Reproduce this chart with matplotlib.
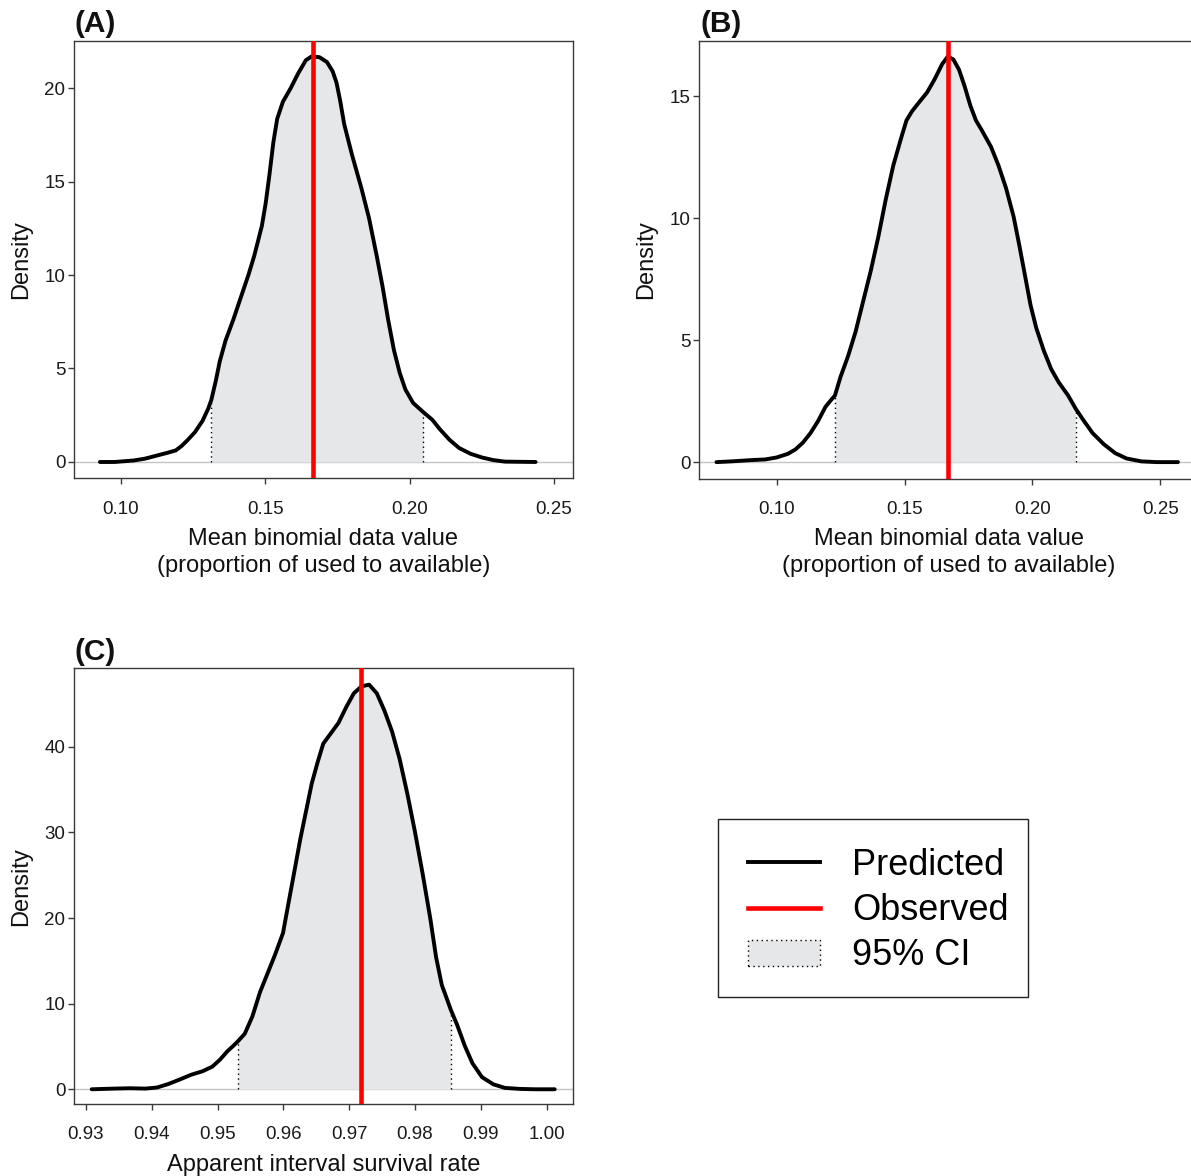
import numpy as np
import matplotlib
matplotlib.use("Agg")
import matplotlib.pyplot as plt
from matplotlib.lines import Line2D
from matplotlib.patches import Patch, Rectangle

plt.rcParams['font.family'] = ['Liberation Sans', 'DejaVu Sans']

# ---------------- data ----------------
# Panel A
a_x = [0.09271, 0.09775, 0.10438, 0.10836, 0.11233, 0.11631, 0.11897, 0.12095,
       0.12294, 0.12560, 0.12825, 0.13024, 0.13130, 0.13289, 0.13422, 0.13621,
       0.13886, 0.14151, 0.14416, 0.14615, 0.14748, 0.14881, 0.15013, 0.15146,
       0.15279, 0.15411, 0.15610, 0.15875, 0.16141, 0.16406, 0.16605, 0.16870,
       0.17135, 0.17334, 0.17467, 0.17599, 0.17732, 0.17997, 0.18329, 0.18594,
       0.18859, 0.19058, 0.19257, 0.19456, 0.19655, 0.19854, 0.20119, 0.20477,
       0.20782, 0.21048, 0.21379, 0.21711, 0.22109, 0.22507, 0.22905, 0.23302,
       0.24363]
a_y = [0.00, 0.00, 0.08, 0.18, 0.34, 0.50, 0.62, 0.85,
       1.15, 1.59, 2.20, 2.86, 3.32, 4.37, 5.38, 6.49,
       7.59, 8.80, 10.01, 11.02, 11.82, 12.63, 13.84, 15.40,
       17.10, 18.35, 19.27, 19.98, 20.79, 21.49, 21.69, 21.65,
       21.39, 20.89, 20.28, 19.27, 18.07, 16.46, 14.64, 13.03,
       11.02, 9.41, 7.59, 5.98, 4.77, 3.87, 3.16, 2.66,
       2.26, 1.75, 1.19, 0.75, 0.44, 0.24, 0.10, 0.02,
       0.00]
a_ci = [0.13130, 0.20477]
a_obs = 0.1665

# Panel B
b_x = [0.07647, 0.08235, 0.08971, 0.09559, 0.10000, 0.10441, 0.10735, 0.11029,
       0.11324, 0.11618, 0.11912, 0.12132, 0.12279, 0.12500, 0.12794, 0.13088,
       0.13382, 0.13676, 0.13971, 0.14265, 0.14559, 0.14853, 0.15074, 0.15294,
       0.15588, 0.15882, 0.16176, 0.16471, 0.16691, 0.16912, 0.17132, 0.17353,
       0.17574, 0.17794, 0.18015, 0.18382, 0.18676, 0.18971, 0.19265, 0.19485,
       0.19706, 0.19926, 0.20147, 0.20441, 0.20735, 0.21029, 0.21397, 0.21691,
       0.21985, 0.22353, 0.22794, 0.23235, 0.23676, 0.24265, 0.24853, 0.25691]
b_y = [0.00, 0.03, 0.08, 0.11, 0.19, 0.34, 0.52, 0.80,
       1.19, 1.68, 2.27, 2.55, 2.73, 3.50, 4.35, 5.35,
       6.59, 7.82, 9.21, 10.76, 12.15, 13.23, 14.00, 14.38,
       14.77, 15.15, 15.69, 16.31, 16.62, 16.50, 16.08, 15.39,
       14.61, 14.00, 13.61, 12.92, 12.15, 11.22, 10.06, 8.90,
       7.67, 6.44, 5.51, 4.58, 3.81, 3.27, 2.73, 2.19,
       1.73, 1.19, 0.73, 0.37, 0.15, 0.03, 0.00, 0.00]
b_ci = [0.12279, 0.21691]
b_obs = 0.1669

# Panel C
c_x = [0.93087, 0.93436, 0.93669, 0.93901, 0.94076, 0.94250, 0.94424, 0.94599,
       0.94773, 0.94919, 0.95035, 0.95151, 0.95238, 0.95308, 0.95413, 0.95529,
       0.95645, 0.95762, 0.95878, 0.95994, 0.96081, 0.96169, 0.96256, 0.96343,
       0.96430, 0.96517, 0.96605, 0.96721, 0.96837, 0.96953, 0.97070, 0.97186,
       0.97302, 0.97419, 0.97535, 0.97651, 0.97767, 0.97884, 0.98000, 0.98116,
       0.98233, 0.98320, 0.98407, 0.98494, 0.98541, 0.98640, 0.98756, 0.98872,
       0.99017, 0.99192, 0.99366, 0.99599, 0.99831, 1.00122]
c_y = [0.00, 0.08, 0.12, 0.08, 0.20, 0.61, 1.14, 1.70,
       2.11, 2.64, 3.45, 4.46, 5.07, 5.60, 6.49, 8.52,
       11.36, 13.59, 15.82, 18.26, 21.91, 25.56, 29.21, 32.45,
       35.70, 38.13, 40.37, 41.58, 42.80, 44.62, 46.25, 47.06,
       47.26, 46.25, 44.22, 41.78, 38.54, 34.48, 30.02, 25.15,
       19.88, 15.42, 12.17, 10.34, 9.33, 7.51, 5.07, 3.04,
       1.42, 0.57, 0.16, 0.04, 0.00, 0.00]
c_ci = [0.95308, 0.98541]
c_obs = 0.9718

xlabel_ab = "Mean binomial data value\n(proportion of used to available)"
xlabel_c = "Apparent interval survival rate"
ticks_ab = [0.10, 0.15, 0.20, 0.25]
ticks_c = [0.93, 0.94, 0.95, 0.96, 0.97, 0.98, 0.99, 1.00]
legend_labels = ['Predicted', 'Observed', '95% CI']

# ---------------- style ----------------
W, H = 1191, 1176
FILL = '#E6E7E9'
FRAME = '#3a3a3a'
CURVE_LW = 2.8
RED_LW = 3.3

fig = plt.figure(figsize=(W / 100, H / 100), dpi=100)


def px_axes(left, top, width, height):
    return fig.add_axes([left / W, 1 - (top + height) / H, width / W, height / H])


def panel(ax, x, y, ci, obs, xlim, ylim, xticks, yticks, xlabel, tag, label_y):
    x = np.asarray(x)
    y = np.asarray(y)
    ax.axhline(0, color='#c4c4c4', lw=1.0, zorder=1)
    inside = (x >= ci[0] - 1e-9) & (x <= ci[1] + 1e-9)
    ax.fill_between(x[inside], 0, y[inside], color=FILL, lw=0, zorder=2)
    for b in ci:
        i = int(np.argmin(np.abs(x - b)))
        ax.vlines(x[i], 0, y[i], colors='black', linestyles=(0, (1, 2.5)), lw=1.0, zorder=3)
    ax.plot(x, y, color='black', lw=CURVE_LW, solid_capstyle='round',
            solid_joinstyle='round', zorder=4)
    ax.axvline(obs, color='#ff0000', lw=RED_LW, zorder=5)
    ax.set_xlim(*xlim)
    ax.set_ylim(*ylim)
    ax.set_xticks(xticks)
    ax.set_xticklabels(["%.2f" % t for t in xticks])
    ax.set_yticks(yticks)
    ax.tick_params(axis='both', direction='out', length=4.5, width=1.0,
                   color=FRAME, labelsize=13.5, labelcolor='#1a1a1a')
    ax.tick_params(axis='x', pad=11.5)
    ax.tick_params(axis='y', pad=1.8)
    for s in ax.spines.values():
        s.set_color(FRAME)
        s.set_linewidth(1.0)
    ax.set_xlabel(xlabel, fontsize=17, linespacing=1.28, color='#111111')
    ax.xaxis.set_label_coords(0.5, label_y)
    ax.set_ylabel("Density", fontsize=17, color='#111111')
    ax.yaxis.set_label_coords(-0.084, 0.5)
    ax.text(0.002, 1.006, tag, transform=ax.transAxes, fontsize=21.5,
            fontweight='bold', ha='left', va='bottom', color='#111111')


axA = px_axes(74, 40.7, 499, 437.6)
panel(axA, a_x, a_y, a_ci, a_obs, (0.08373, 0.25658), (-0.872, 22.53),
      ticks_ab, [0, 5, 10, 15, 20], xlabel_ab, '(A)', -0.113)

axB = px_axes(699.3, 40.7, 499, 438.0)
panel(axB, b_x, b_y, b_ci, b_obs, (0.06976, 0.26486), (-0.68, 17.27),
      ticks_ab, [0, 5, 10, 15], xlabel_ab, '(B)', -0.113)

axC = px_axes(74, 668.3, 499, 435.7)
panel(axC, c_x, c_y, c_ci, c_obs, (0.92818, 1.0040), (-1.72, 49.17),
      ticks_c, [0, 10, 20, 30, 40], xlabel_c, '(C)', -0.115)

# ---------------- legend ----------------
handles = [
    Line2D([], [], color='black', lw=CURVE_LW),
    Line2D([], [], color='#ff0000', lw=RED_LW),
    Patch(facecolor=FILL, edgecolor='black', linestyle=(0, (1, 2.5)), lw=1.0),
]
box_l, box_t, box_r, box_b = 717.7, 819.0, 1028.3, 996.7
fig.patches.append(Rectangle((box_l / W, 1 - box_b / H), (box_r - box_l) / W,
                             (box_b - box_t) / H, transform=fig.transFigure,
                             facecolor='white', edgecolor='#222222', lw=1.0,
                             zorder=0))
leg = fig.legend(handles, legend_labels, loc='upper left',
                 bbox_to_anchor=(box_l / W, 1 - (box_t - 1.5) / H), borderaxespad=0,
                 fontsize=26, handlelength=1.97, handleheight=0.72,
                 handletextpad=0.9, borderpad=0.85, labelspacing=0.28,
                 frameon=False)

fig.savefig('out.png', dpi=100)
